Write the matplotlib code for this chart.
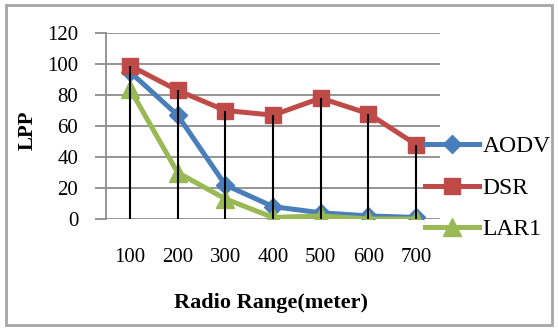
import matplotlib
matplotlib.use("Agg")
import matplotlib.pyplot as plt
from matplotlib.patches import Rectangle

plt.rcParams['font.family'] = ['Liberation Serif', 'DejaVu Serif']

ranges = ["100", "200", "300", "400", "500", "600", "700"]
aodv = [95, 67, 22, 8, 4, 2, 1]
dsr = [99, 83, 70, 67, 78, 68, 48]
lar1 = [84, 30, 13, 1, 2, 0, 0]

W, H = 558, 329
fig = plt.figure(figsize=(W / 100, H / 100), dpi=100)
ax = fig.add_axes([106 / W, 1 - 219 / H, (440 - 106) / W, (219 - 33) / H])

x = list(range(len(ranges)))
grid_c = "#8c8c8c"

for yv in range(0, 121, 20):
    ax.axhline(yv, color=grid_c, lw=1.3, zorder=1)

# drop lines from the highest series down to the category axis
tops = [max(a, d, l) for a, d, l in zip(aodv, dsr, lar1)]
ax.vlines(x, 0, tops, color="black", lw=1.5, zorder=5)

ax.plot(x, aodv, color="#4A7EBB", lw=3.6, marker="D", ms=9,
        mec="#4A7EBB", label="AODV", zorder=3)
ax.plot(x, dsr, color="#BE4B48", lw=3.6, marker="s", ms=12,
        mec="#BE4B48", label="DSR", zorder=4)
ax.plot(x, lar1, color="#98B954", lw=3.6, marker="^", ms=13,
        mec="#98B954", label="LAR1", zorder=3)

ax.set_xlim(-0.5, len(ranges) - 0.5)
ax.set_ylim(0, 120)
ax.set_yticks(range(0, 121, 20))
ax.set_xticks(x)
ax.set_xticklabels(ranges)
ax.tick_params(axis="y", length=8, width=1.3, color=grid_c, pad=12, labelsize=15)
ax.tick_params(axis="x", length=0, pad=21, labelsize=15)
for s in ["top", "right", "bottom"]:
    ax.spines[s].set_visible(False)
ax.spines["left"].set_color(grid_c)
ax.spines["left"].set_linewidth(1.3)
ax.set_facecolor("none")

fig.text(28 / W, 1 - 130 / H, "LPP", fontsize=15, fontweight="bold",
         rotation=90, ha="center", va="center")
fig.text(271 / W, 1 - 303 / H, "Radio Range(meter)", fontsize=16,
         fontweight="bold", ha="center", va="center")

leg = ax.legend(loc="center left", bbox_to_anchor=(425 / W, 1 - 188 / H),
                bbox_transform=fig.transFigure, frameon=False, fontsize=17,
                handlelength=2.3, handletextpad=0.15, labelspacing=0.85,
                borderaxespad=0, borderpad=0, markerscale=1)

fig.patches.append(Rectangle((6 / W, 4 / H), (552 - 6) / W, (326 - 6) / H,
                             transform=fig.transFigure, fill=False,
                             ec="#a6a6a6", lw=2))

fig.savefig("out.png", dpi=100)
